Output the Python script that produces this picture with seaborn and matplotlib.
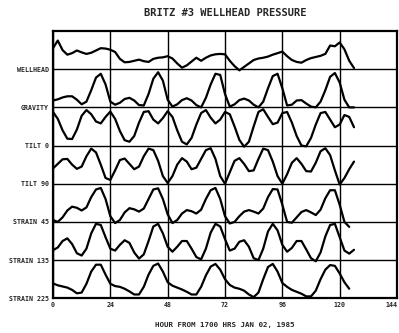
import numpy as np
import pandas as pd
import matplotlib
matplotlib.use("Agg")
import matplotlib.pyplot as plt
import seaborn as sns

# ---------------- data (row-fraction values) ----------------
hours = list(range(0, 128, 2))

wellhead = [0.55, 0.75, 0.50, 0.38, 0.42, 0.49, 0.44, 0.40,
            0.43, 0.49, 0.55, 0.54, 0.51, 0.45, 0.27, 0.18,
            0.19, 0.22, 0.25, 0.21, 0.19, 0.27, 0.30, 0.31,
            0.34, 0.28, 0.15, 0.04, 0.10, 0.20, 0.30, 0.22,
            0.30, 0.36, 0.39, 0.40, 0.39, 0.22, 0.08, -0.03,
            0.06, 0.15, 0.24, 0.28, 0.30, 0.33, 0.38, 0.42,
            0.46, 0.34, 0.24, 0.19, 0.17, 0.24, 0.29, 0.32,
            0.35, 0.40, 0.62, 0.60, 0.70, 0.52, 0.22, 0.03]

gravity = [0.18, 0.21, 0.26, 0.29, 0.29, 0.20, 0.08, 0.15,
           0.45, 0.78, 0.88, 0.60, 0.15, 0.07, 0.12, 0.22,
           0.25, 0.18, 0.06, 0.05, 0.35, 0.75, 0.92, 0.70,
           0.20, 0.02, 0.08, 0.19, 0.24, 0.18, 0.06, 0.00,
           0.25, 0.60, 0.88, 0.85, 0.35, 0.02, 0.08, 0.19,
           0.23, 0.18, 0.07, 0.00, 0.15, 0.50, 0.82, 0.88,
           0.50, 0.05, 0.07, 0.18, 0.19, 0.10, 0.02, 0.00,
           0.15, 0.45, 0.80, 0.90, 0.65, 0.20, 0.00, 0.00]

tilt_0 = [0.88, 0.70, 0.40, 0.18, 0.17, 0.42, 0.78, 0.93,
          0.82, 0.63, 0.58, 0.75, 0.89, 0.70, 0.38, 0.14,
          0.10, 0.25, 0.60, 0.88, 0.90, 0.68, 0.58, 0.72,
          0.90, 0.75, 0.40, 0.10, 0.03, 0.20, 0.55, 0.85,
          0.93, 0.73, 0.58, 0.68, 0.88, 0.82, 0.50, 0.15,
          -0.03, 0.10, 0.50, 0.88, 0.95, 0.75, 0.56, 0.60,
          0.85, 0.88, 0.60, 0.25, 0.00, -0.02, 0.20, 0.55,
          0.85, 0.88, 0.68, 0.48, 0.55, 0.80, 0.75, 0.48]

tilt_90 = [0.40, 0.52, 0.64, 0.65, 0.50, 0.39, 0.45, 0.72,
           0.92, 0.82, 0.50, 0.15, 0.10, 0.35, 0.62, 0.66,
           0.52, 0.38, 0.45, 0.72, 0.92, 0.88, 0.60, 0.20,
           0.02, 0.20, 0.50, 0.67, 0.58, 0.38, 0.42, 0.65,
           0.88, 0.93, 0.65, 0.20, 0.00, 0.30, 0.60, 0.67,
           0.52, 0.33, 0.35, 0.65, 0.92, 0.88, 0.58, 0.20,
           0.00, 0.25, 0.55, 0.67, 0.52, 0.33, 0.32, 0.55,
           0.85, 0.93, 0.75, 0.35, -0.02, 0.15, 0.38, 0.58]

strain_45 = [0.05, 0.00, 0.12, 0.30, 0.40, 0.37, 0.30, 0.38,
             0.65, 0.85, 0.89, 0.60, 0.15, -0.03, 0.05, 0.25,
             0.36, 0.33, 0.27, 0.35, 0.60, 0.85, 0.88, 0.60,
             0.20, -0.03, 0.05, 0.22, 0.31, 0.28, 0.22, 0.32,
             0.60, 0.83, 0.89, 0.60, 0.15, -0.04, 0.00, 0.15,
             0.27, 0.31, 0.27, 0.22, 0.35, 0.65, 0.86, 0.85,
             0.45, 0.00, -0.02, 0.12, 0.26, 0.31, 0.25, 0.18,
             0.32, 0.62, 0.83, 0.83, 0.45, 0.00, -0.13, np.nan]

strain_135 = [0.26, 0.33, 0.50, 0.57, 0.42, 0.18, 0.12, 0.30,
              0.70, 0.95, 0.92, 0.60, 0.30, 0.25, 0.40, 0.52,
              0.45, 0.20, 0.04, 0.15, 0.50, 0.88, 0.95, 0.70,
              0.35, 0.22, 0.35, 0.50, 0.50, 0.30, 0.08, 0.02,
              0.30, 0.72, 0.95, 0.88, 0.55, 0.25, 0.30, 0.48,
              0.52, 0.35, 0.05, 0.00, 0.30, 0.75, 0.95, 0.78,
              0.40, 0.22, 0.32, 0.50, 0.50, 0.28, 0.05, -0.03,
              0.20, 0.62, 0.92, 0.95, 0.60, 0.25, 0.17, 0.27]

strain_225 = [0.39, 0.34, 0.31, 0.28, 0.22, 0.13, 0.15, 0.38,
              0.70, 0.88, 0.88, 0.62, 0.38, 0.32, 0.30, 0.25,
              0.18, 0.10, 0.10, 0.30, 0.62, 0.85, 0.91, 0.70,
              0.42, 0.33, 0.28, 0.23, 0.17, 0.10, 0.10, 0.30,
              0.60, 0.83, 0.90, 0.75, 0.50, 0.35, 0.28, 0.25,
              0.20, 0.10, 0.03, 0.15, 0.50, 0.82, 0.90, 0.70,
              0.40, 0.30, 0.22, 0.17, 0.12, 0.05, 0.05, 0.20,
              0.50, 0.75, 0.87, 0.85, 0.65, 0.42, 0.25, np.nan]

row_labels = ["STRAIN 225", "STRAIN 135", "STRAIN 45", "TILT 90",
              "TILT 0", "GRAVITY", "WELLHEAD"]
series = [strain_225, strain_135, strain_45, tilt_90, tilt_0, gravity, wellhead]
x_ticks = [0, 24, 48, 72, 96, 120, 144]

title = "BRITZ #3 WELLHEAD PRESSURE"
xlabel = "HOUR FROM 1700 HRS JAN 02, 1985"

# ---------------- drawing ----------------
sns.set_style("white")
plt.rcParams["font.family"] = ["DejaVu Sans Mono", "DejaVu Sans"]
plt.rcParams["font.weight"] = "bold"

fig = plt.figure(figsize=(3.99, 3.33), dpi=100)
ax = fig.add_axes([53 / 399, 1 - 298.3 / 333, (397 - 53) / 399, (298.3 - 31) / 333])

for offset, vals in enumerate(series):
    df = pd.DataFrame({"hour": hours, "value": np.asarray(vals, dtype=float) + offset}).dropna()
    sns.lineplot(data=df, x="hour", y="value", color="black", linewidth=1.6,
                 estimator=None, sort=False, ax=ax)

ax.set_xlim(0, 144)
ax.set_ylim(0, 7)
ax.set_xticks(x_ticks)
ax.set_xticklabels([str(t) for t in x_ticks])
ax.set_yticks(range(len(row_labels)))
ax.set_yticklabels(row_labels)
ax.grid(True, color="black", linewidth=1.0)
ax.set_axisbelow(True)
for sp in ax.spines.values():
    sp.set_color("black")
    sp.set_linewidth(1.6)
ax.tick_params(axis="both", length=0, labelsize=4.8, pad=3)
for lab in ax.get_xticklabels() + ax.get_yticklabels():
    lab.set_fontweight("bold")
ax.get_xticklabels()[-1].set_horizontalalignment("right")

ax.set_ylabel("")
ax.set_xlabel(xlabel, fontsize=5.4, fontweight="bold", labelpad=10)
ax.set_title(title, fontsize=7.5, fontweight="bold", pad=11)

fig.savefig("out.png", dpi=100)
